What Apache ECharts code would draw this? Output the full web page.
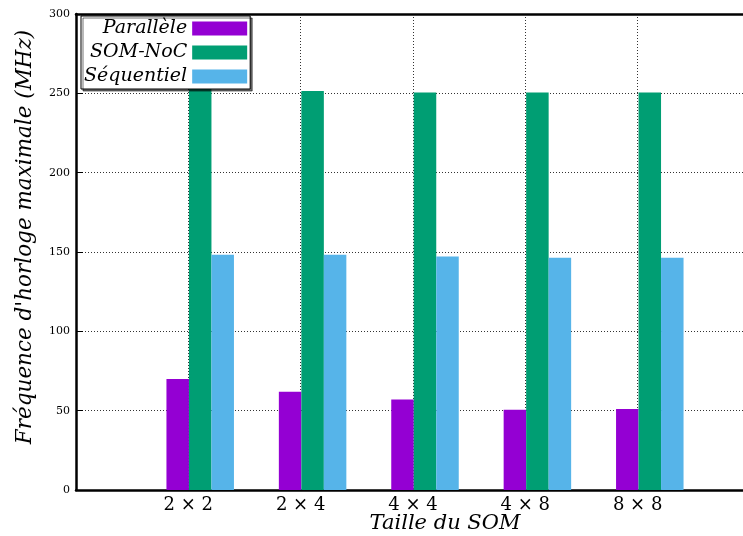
<!DOCTYPE html>
<html>
<head>
<meta charset="utf-8">
<script src="https://cdn.jsdelivr.net/npm/echarts@6/dist/echarts.min.js"></script>
<style>
html,body{margin:0;padding:0;background:#fff;}
#chart{width:743px;height:536px;}
</style>
</head>
<body>
<div id="chart"></div>
<script>
const categories = ['2 × 2', '2 × 4', '4 × 4', '4 × 8', '8 × 8'];
const parallele = [70, 62, 57, 50.5, 51];
const somNoc = [253.3, 251.5, 250.6, 250.5, 250.5];
const sequentiel = [148.3, 148.3, 147.2, 146.4, 146.4];
const seriesNames = ['Parallèle', 'SOM-NoC', 'Séquentiel'];
const colors = ['#9400D3', '#009E73', '#56B4E9'];
const yMin = 0, yMax = 300, yStep = 50;

const serif = 'DejaVu Serif';
const chart = echarts.init(document.getElementById('chart'), null, {renderer: 'canvas'});

const gridTop = 14, gridHeight = 476;
const dotted = {type: [1, 2], color: '#333', width: 1};
const option = {
  animation: false,
  backgroundColor: '#fff',
  grid: [
    {left: 76, top: gridTop, width: 738, height: gridHeight, outerBoundsMode: 'none', containLabel: false},
    {left: 144, top: gridTop, width: 562, height: gridHeight, outerBoundsMode: 'none', containLabel: false}
  ],
  legend: {
    orient: 'vertical',
    left: 81, top: 16,
    align: 'right',
    icon: 'rect',
    itemWidth: 55, itemHeight: 14, itemGap: 3,
    padding: [2, 3, 2, 3],
    backgroundColor: '#fff',
    borderColor: '#000', borderWidth: 1,
    shadowColor: 'rgba(0,0,0,0.55)', shadowOffsetX: 2, shadowOffsetY: 2, shadowBlur: 0,
    data: seriesNames,
    textStyle: {fontFamily: serif, fontStyle: 'italic', fontSize: 19, color: '#000',
                width: 96, align: 'right', lineHeight: 21, overflow: 'none'},
    itemStyle: {borderWidth: 0}
  },
  xAxis: [
    {
      type: 'value', gridIndex: 0, position: 'bottom',
      min: -1, max: 5.57, interval: 1,
      axisLine: {onZero: false, lineStyle: {color: '#000', width: 2.5}},
      axisTick: {show: false},
      axisLabel: {
        fontFamily: serif, fontSize: 18, color: '#000', margin: 6,
        showMinLabel: false, showMaxLabel: false,
        formatter: v => (Number.isInteger(v) && v >= 0 && v < categories.length) ? categories[v] : ''
      },
      splitLine: {show: true, lineStyle: dotted},
      name: 'Taille du SOM', nameLocation: 'middle', nameGap: 23, nameMoveOverlap: false,
      nameTextStyle: {fontFamily: serif, fontStyle: 'italic', fontSize: 21, color: '#000'}
    },
    {
      type: 'value', gridIndex: 0, position: 'top',
      min: -1, max: 5.57, interval: 1,
      axisLine: {show: true, onZero: false, lineStyle: {color: '#000', width: 2.5}},
      axisTick: {show: false}, axisLabel: {show: false}, splitLine: {show: false}
    },
    {
      type: 'category', gridIndex: 1, data: categories, boundaryGap: true,
      axisLine: {show: false}, axisTick: {show: false}, axisLabel: {show: false}, splitLine: {show: false}
    }
  ],
  yAxis: [
    {
      type: 'value', gridIndex: 0, min: yMin, max: yMax, interval: yStep,
      axisLine: {show: true, onZero: false, lineStyle: {color: '#000', width: 2.5}},
      axisTick: {show: true, inside: true, length: 7, lineStyle: {color: '#000', width: 1}},
      axisLabel: {fontFamily: serif, fontSize: 11, color: '#000', margin: 6},
      splitLine: {show: true, lineStyle: dotted},
      name: 'Fréquence d\'horloge maximale (MHz)', nameLocation: 'middle', nameGap: 40,
      nameTextStyle: {fontFamily: serif, fontStyle: 'italic', fontSize: 21.5, color: '#000', padding: [0, 0, 0, 30]}
    },
    {
      type: 'value', gridIndex: 1, min: yMin, max: yMax, interval: yStep, show: false
    }
  ],
  series: [parallele, somNoc, sequentiel].map((d, i) => ({
    type: 'bar', name: seriesNames[i], data: d,
    xAxisIndex: 2, yAxisIndex: 1,
    barWidth: 22.5, barGap: '0%',
    itemStyle: {color: colors[i]}
  }))
};
chart.setOption(option);
</script>
</body>
</html>
